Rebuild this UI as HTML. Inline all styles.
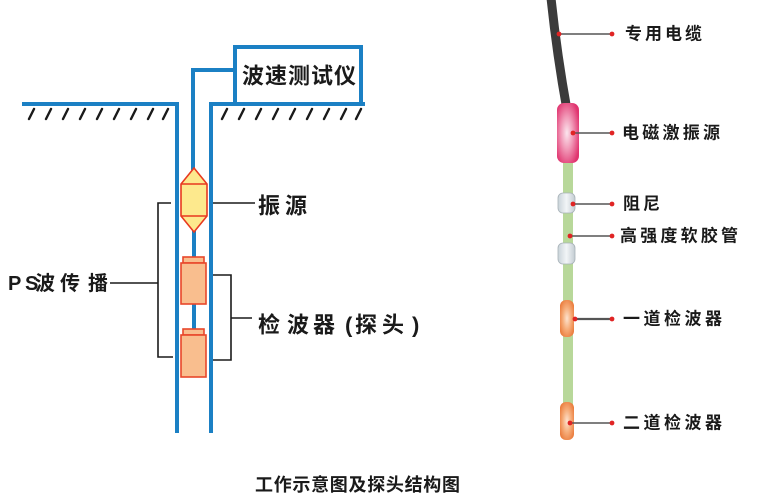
<!DOCTYPE html>
<html><head><meta charset="utf-8">
<style>
html,body{margin:0;padding:0;background:#fff;}
svg{display:block;}
text{font-family:"Liberation Sans","Noto Sans CJK SC",sans-serif;fill:#1a1a1a;}
</style></head>
<body>
<svg width="760" height="504" viewBox="0 0 760 504" xmlns="http://www.w3.org/2000/svg">
<defs>
  <radialGradient id="pink" cx="0.45" cy="0.5" r="0.6">
    <stop offset="0" stop-color="#fbe6ee"/>
    <stop offset="0.45" stop-color="#f19ab8"/>
    <stop offset="1" stop-color="#e0346f"/>
  </radialGradient>
  <radialGradient id="orange" cx="0.5" cy="0.5" r="0.6">
    <stop offset="0" stop-color="#fde3cf"/>
    <stop offset="0.5" stop-color="#f6ad7a"/>
    <stop offset="1" stop-color="#ea7a3a"/>
  </radialGradient>
  <linearGradient id="gray" x1="0" x2="1">
    <stop offset="0" stop-color="#c9d3d9"/>
    <stop offset="0.5" stop-color="#f2f5f7"/>
    <stop offset="1" stop-color="#c3ccd2"/>
  </linearGradient>
</defs>

<!-- ===== Left diagram ===== -->
<g fill="#1b80c4">
  <!-- ground lines -->
  <rect x="22" y="102" width="157" height="4"/>
  <rect x="209" y="102" width="156" height="4"/>
  <!-- well walls -->
  <rect x="175" y="102" width="4" height="331"/>
  <rect x="209" y="102" width="4" height="331"/>
  <!-- instrument box -->
  <rect x="233" y="45" width="4" height="59"/>
  <rect x="233" y="45" width="130" height="4"/>
  <rect x="359" y="45" width="4" height="61"/>
  <!-- cable -->
  <rect x="191" y="68" width="44" height="4"/>
  <rect x="191" y="68" width="4" height="102"/>
  <rect x="192" y="230" width="4" height="28"/>
  <rect x="192" y="303" width="4" height="27"/>
</g>

<!-- hatches -->
<g stroke="#1a1a1a" stroke-width="2.4" stroke-linecap="round">
  <line x1="29" y1="119" x2="34" y2="109"/>
  <line x1="46" y1="119" x2="51" y2="109"/>
  <line x1="63" y1="119" x2="68" y2="109"/>
  <line x1="80" y1="119" x2="85" y2="109"/>
  <line x1="97" y1="119" x2="102" y2="109"/>
  <line x1="114" y1="119" x2="119" y2="109"/>
  <line x1="131" y1="119" x2="136" y2="109"/>
  <line x1="148" y1="119" x2="153" y2="109"/>
  <line x1="163" y1="119" x2="168" y2="109"/>
  <line x1="222" y1="119" x2="227" y2="109"/>
  <line x1="239" y1="119" x2="244" y2="109"/>
  <line x1="256" y1="119" x2="261" y2="109"/>
  <line x1="273" y1="119" x2="278" y2="109"/>
  <line x1="290" y1="119" x2="295" y2="109"/>
  <line x1="307" y1="119" x2="312" y2="109"/>
  <line x1="324" y1="119" x2="329" y2="109"/>
  <line x1="341" y1="119" x2="346" y2="109"/>
  <line x1="356" y1="119" x2="361" y2="109"/>
</g>

<!-- vibration source -->
<polygon points="194,168 181,184 181,216 194,232 207,216 207,184" fill="#fde98d" stroke="#e8391f" stroke-width="1.6"/>
<line x1="181" y1="184" x2="207" y2="184" stroke="#e8391f" stroke-width="1.6"/>
<line x1="181" y1="216" x2="207" y2="216" stroke="#e8391f" stroke-width="1.6"/>

<!-- detectors -->
<g fill="#f9be8e" stroke="#e8472a" stroke-width="1.6">
  <rect x="183" y="257" width="21" height="6"/>
  <rect x="181" y="263" width="25" height="41"/>
  <rect x="183" y="329" width="21" height="6"/>
  <rect x="181" y="335" width="25" height="42"/>
</g>

<!-- brackets -->
<g stroke="#1a1a1a" stroke-width="1.6" fill="none">
  <polyline points="171,203 158,203 158,357 173,357"/>
  <line x1="158" y1="283" x2="110" y2="283"/>
  <polyline points="213,275 231,275 231,360 213,360"/>
  <line x1="231" y1="318" x2="252" y2="318"/>
  <line x1="213" y1="203" x2="255" y2="203"/>
</g>

<!-- left labels -->
<text x="242" y="76" font-size="22" font-weight="bold" dominant-baseline="central" textLength="114" lengthAdjust="spacing">波速测试仪</text>
<text x="258 285" y="206" font-size="22" font-weight="bold" dominant-baseline="central">振源</text>
<text x="258 287 313 345 355 382 412" y="325" font-size="22" font-weight="bold" dominant-baseline="central">检波器(探头)</text>
<text x="8 25 35 60 88" y="284" font-size="20" font-weight="bold" dominant-baseline="central">PS波传播</text>

<!-- caption -->
<text x="255" y="485" font-size="18" font-weight="bold" dominant-baseline="central" textLength="205" lengthAdjust="spacing">工作示意图及探头结构图</text>

<!-- ===== Right diagram ===== -->
<!-- cable -->
<path d="M551,-2 Q557,55 567,110" stroke="#3b3b3b" stroke-width="9" fill="none"/>
<!-- green hose -->
<rect x="563" y="158" width="10" height="272" fill="#b8d89a"/>
<!-- pink source -->
<rect x="557" y="103" width="22" height="60" rx="7" fill="url(#pink)"/>
<!-- dampers -->
<rect x="558" y="193" width="17" height="20" rx="5" fill="url(#gray)" stroke="#a8b2b8" stroke-width="0.8"/>
<rect x="558" y="243" width="17" height="21" rx="5" fill="url(#gray)" stroke="#a8b2b8" stroke-width="0.8"/>
<!-- detectors -->
<rect x="560" y="300" width="14" height="37" rx="6" fill="url(#orange)"/>
<rect x="560" y="402" width="14" height="38" rx="6" fill="url(#orange)"/>

<!-- leaders -->
<g stroke="#555" stroke-width="1.5">
  <line x1="559" y1="34" x2="612" y2="34"/>
  <line x1="573" y1="133" x2="612" y2="133"/>
  <line x1="573" y1="204" x2="612" y2="204"/>
  <line x1="570" y1="236" x2="612" y2="236"/>
  <line x1="575" y1="319" x2="612" y2="319" stroke-width="2.2"/>
  <line x1="570" y1="423" x2="612" y2="423"/>
</g>
<g fill="#e02424">
  <circle cx="559" cy="34" r="2.4"/><circle cx="612" cy="34" r="2.4"/>
  <circle cx="573" cy="133" r="2.4"/><circle cx="612" cy="133" r="2.4"/>
  <circle cx="573" cy="204" r="2.4"/><circle cx="612" cy="204" r="2.4"/>
  <circle cx="570" cy="236" r="2.4"/><circle cx="612" cy="236" r="2.4"/>
  <circle cx="575" cy="319" r="2.4"/><circle cx="612" cy="319" r="2.4"/>
  <circle cx="570" cy="423" r="2.4"/><circle cx="612" cy="423" r="2.4"/>
</g>

<!-- right labels -->
<g font-size="17" font-weight="bold">
  <text x="625" y="34" dominant-baseline="central" textLength="77" lengthAdjust="spacing">专用电缆</text>
  <text x="622" y="133" dominant-baseline="central" textLength="98" lengthAdjust="spacing">电磁激振源</text>
  <text x="623" y="204" dominant-baseline="central" textLength="37" lengthAdjust="spacing">阻尼</text>
  <text x="620" y="236" dominant-baseline="central" textLength="118" lengthAdjust="spacing">高强度软胶管</text>
  <text x="623" y="319" dominant-baseline="central" textLength="99" lengthAdjust="spacing">一道检波器</text>
  <text x="623" y="423" dominant-baseline="central" textLength="99" lengthAdjust="spacing">二道检波器</text>
</g>
</svg>
</body></html>
